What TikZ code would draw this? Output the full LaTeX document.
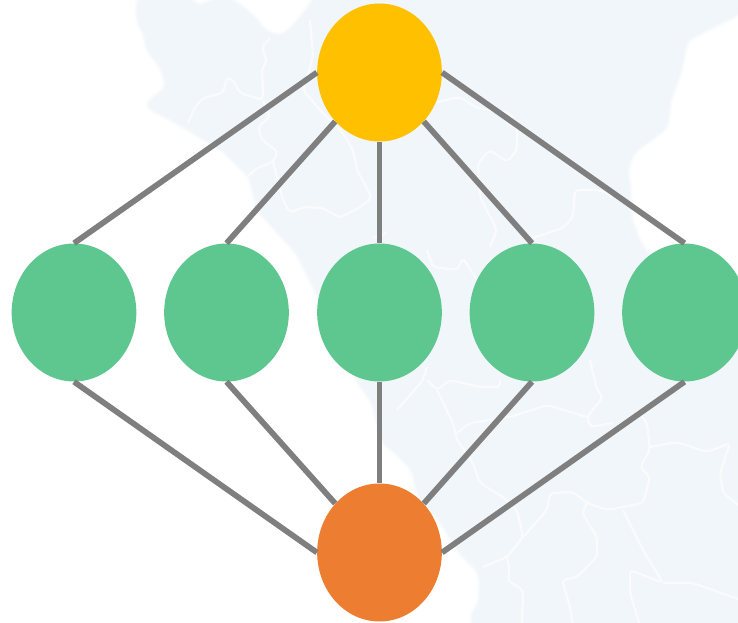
\documentclass[tikz,border=0pt]{standalone}
\usetikzlibrary{shapes.geometric}
\definecolor{mapfill}{HTML}{F1F6FA}
\definecolor{linkgray}{HTML}{7F7F7F}
\definecolor{goldnode}{HTML}{FFC000}
\definecolor{greennode}{HTML}{5DC78F}
\definecolor{orangenode}{HTML}{ED7D31}
\tikzset{
  x=0.75pt,y=-0.75pt,
  blob/.style={ellipse,inner sep=0pt,minimum width=93.5pt,minimum height=103.5pt,draw=none},
  link/.style={draw=linkgray,line width=4.3pt},
  border/.style={draw=white,line width=1.7pt,opacity=.6,rounded corners=3pt,line join=round}
}
\def\coastpath{(138,-3) -- (137,20) -- (145,35) -- (147,50) -- (160,65) -- (166,80) -- (165,90) -- (150,100) -- (148,108) -- (167,117) -- (223,150) -- (250,177) -- (258,210) -- (297,253) -- (317,293) -- (357,380) -- (373,403) -- (383,443) -- (393,450) -- (413,470) -- (417,493) -- (440,520) -- (460,553) -- (480,573) -- (480,603) -- (470,617) -- (475,626) -- (741,626) -- (741,345) -- (680,300) -- (640,243) -- (630,217) -- (630,190) -- (627,170) -- (633,153) -- (667,127) -- (670,100) -- (680,73) -- (687,40) -- (720,23) -- (741,13) -- (741,-3) -- (315,-3) -- (307,10) -- (293,27) -- (280,37) -- (263,30) -- (257,20) -- (240,5) -- (223,-3) -- (207,3) -- (197,7) -- (190,-3) -- cycle}
\begin{document}
\begin{tikzpicture}
\useasboundingbox (0,0) rectangle (738,623);
\clip (0,0) rectangle (738,623);
% map silhouette with a soft edge
\draw[mapfill,opacity=.35,line width=4.5pt,rounded corners=5pt,line join=round] \coastpath;
\draw[mapfill,opacity=.5,line width=2.2pt,rounded corners=5pt,line join=round] \coastpath;
\fill[mapfill,rounded corners=5pt] \coastpath;
% internal borders
\draw[border] (188,123) -- (195,107) -- (203,98) -- (223,93) -- (227,77) -- (233,80) -- (240,93) -- (253,97) -- (263,100) -- (262,67) -- (267,63) -- (262,47) -- (270,38);
\draw[border] (263,100) -- (270,117) -- (258,127) -- (262,140) -- (278,152) -- (273,162) -- (257,168) -- (247,177);
\draw[border] (273,162) -- (283,200) -- (290,213) -- (303,207) -- (323,208) -- (340,218) -- (360,207) -- (372,198) -- (357,170) -- (353,150) -- (343,133) -- (333,123) -- (320,110) -- (303,90) -- (313,57) -- (310,20);
\draw[border] (373,238) -- (387,233);
\draw[border] (437,102) -- (460,97) -- (477,108) -- (510,113) -- (517,127) -- (517,150) -- (507,162) -- (490,150) -- (478,163) -- (480,197) -- (497,230) -- (490,247);
\draw[border] (533,238) -- (563,228) -- (573,217) -- (575,190) -- (600,190) -- (613,197);
\draw[border] (427,250) -- (433,267) -- (457,270) -- (463,258) -- (477,280);
\draw[border] (397,410) -- (423,380) -- (427,367);
\draw[border] (427,380) -- (437,390) -- (450,380) -- (480,387) -- (500,387) -- (500,380);
\draw[border] (437,390) -- (453,423) -- (457,440) -- (473,463) -- (480,483) -- (503,497) -- (517,510) -- (523,537) -- (507,557) -- (483,567);
\draw[border] (507,557) -- (510,573) -- (507,580) -- (523,590) -- (522,626);
\draw[border] (523,537) -- (547,510) -- (550,493) -- (573,492) -- (587,503) -- (607,510) -- (623,507) -- (643,503) -- (650,477) -- (640,467) -- (650,450) -- (647,423) -- (637,410);
\draw[border] (650,447) -- (677,442) -- (707,452) -- (730,443) -- (720,473) -- (723,493) -- (741,507);
\draw[border] (587,503) -- (582,513) -- (597,537) -- (597,557) -- (577,577) -- (562,580) -- (570,607) -- (573,626);
\draw[border] (623,510) -- (643,550) -- (663,583) -- (630,570) -- (630,593) -- (640,626);
\draw[border] (663,583) -- (693,583) -- (741,600);
\draw[border] (590,360) -- (597,390) -- (603,397) -- (587,417) -- (590,427) -- (613,423);
\draw[border] (587,417) -- (547,405) -- (510,417) -- (470,423) -- (457,433);
% nodes
\node[blob,fill=goldnode] (top) at (379.5,72.5) {};
\node[blob,fill=greennode] (g1) at (74,312.5) {};
\node[blob,fill=greennode] (g2) at (226.5,312.5) {};
\node[blob,fill=greennode] (g3) at (379.5,312.5) {};
\node[blob,fill=greennode] (g4) at (532,312.5) {};
\node[blob,fill=greennode] (g5) at (684.5,312.5) {};
\node[blob,fill=orangenode] (bot) at (379.5,552.5) {};
% connectors
\draw[link] (top.west) -- (g1.north);
\draw[link] (top.south west) -- (g2.north);
\draw[link] (top.south) -- (g3.north);
\draw[link] (top.south east) -- (g4.north);
\draw[link] (top.east) -- (g5.north);
\draw[link] (g1.south) -- (bot.west);
\draw[link] (g2.south) -- (bot.north west);
\draw[link] (g3.south) -- (bot.north);
\draw[link] (g4.south) -- (bot.north east);
\draw[link] (g5.south) -- (bot.east);
\end{tikzpicture}
\end{document}
